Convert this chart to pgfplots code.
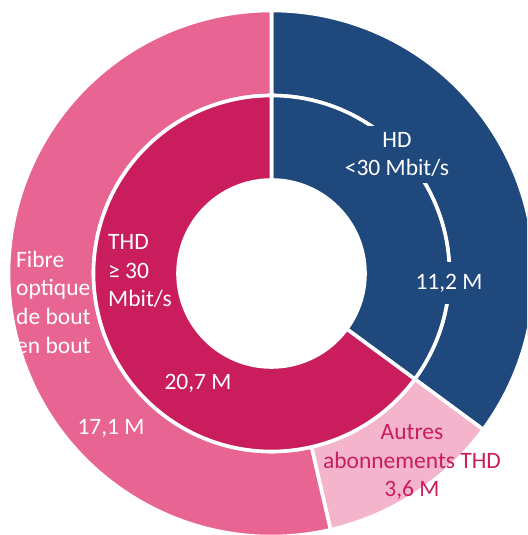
\documentclass[border=0pt]{standalone}
\usepackage{pgfplots}
\pgfplotsset{compat=1.18}
\usepackage{pgfplotstable}
\usepackage{fontspec}
\setmainfont{Carlito}
\definecolor{hdblue}{RGB}{31,73,125}
\definecolor{thdred}{RGB}{201,29,94}
\definecolor{fibpink}{RGB}{232,101,147}
\definecolor{autpink}{RGB}{243,180,204}

\pgfplotstableread{
name value
HD 11.2
THD 20.7
}\innerdata
\pgfplotstableread{
name value
HD 11.2
Autres 3.6
Fibre 17.1
}\outerdata

% annular sector: start angle, end angle, inner radius, outer radius, colour
\newcommand\sector[5]{%
 \path[fill=#5,draw=white,line width=3.6pt,line join=miter]
 (axis cs:{271.5+#4*cos(#1)},{261.5+#4*sin(#1)})
 arc[start angle=#1,end angle=#2,radius=#4pt]
 -- (axis cs:{271.5+#3*cos(#2)},{261.5+#3*sin(#2)})
 arc[start angle=#2,end angle=#1,radius=#3pt] -- cycle;}

\tikzset{lab/.style={font=\fontsize{23.5}{28.7}\selectfont, inner sep=0pt}}

\begin{document}%
\pgfplotstablegetelem{0}{value}\of\innerdata\let\vHD\pgfplotsretval%
\pgfplotstablegetelem{1}{value}\of\innerdata\let\vTHD\pgfplotsretval%
\pgfplotstablegetelem{1}{value}\of\outerdata\let\vAut\pgfplotsretval%
\pgfplotstablegetelem{2}{value}\of\outerdata\let\vFib\pgfplotsretval%
\pgfmathsetmacro\tot{\vHD+\vTHD}%
\pgfmathsetmacro\aHD{90-360*\vHD/\tot}%
\pgfmathsetmacro\aAut{\aHD-360*\vAut/\tot}%
\begin{tikzpicture}
\begin{axis}[width=527pt,height=535pt,scale only axis,
  xmin=0,xmax=527,ymin=0,ymax=535,hide axis,clip=true]
\begin{scope}
\clip (axis cs:0,0) rectangle (axis cs:527,535);
% outer ring
\sector{90}{\aHD}{178}{263}{hdblue}
\sector{\aHD}{\aAut}{178}{263}{autpink}
\sector{\aAut}{-270}{178}{263}{fibpink}
% inner ring
\sector{90}{\aHD}{93.5}{178}{hdblue}
\sector{\aHD}{-270}{93.5}{178}{thdred}
\end{scope}
% labels
\node[lab,text=white,fill=hdblue,align=center,inner xsep=3pt,inner ysep=6pt] at (axis cs:397,380.6) {HD\\<30 Mbit/s};
\node[lab,text=white,fill=hdblue,inner xsep=3pt,inner ysep=12pt] at (axis cs:449,252) {11,2 M};
\node[lab,text=white,align=left,anchor=west] at (axis cs:108,264) {THD\\≥ 30\\Mbit/s};
\node[lab,text=white,align=left,anchor=west] at (axis cs:16,233) {Fibre\\optique\\de bout\\en bout};
\node[lab,text=white] at (axis cs:198,152) {20,7 M};
\node[lab,text=white] at (axis cs:111,107) {17,1 M};
\node[lab,text=thdred,align=center] at (axis cs:412,73) {Autres\\abonnements THD\\3,6 M};
\end{axis}
\pgfresetboundingbox
\path[use as bounding box] (current axis.south west) rectangle (current axis.north east);
\end{tikzpicture}%
\end{document}
